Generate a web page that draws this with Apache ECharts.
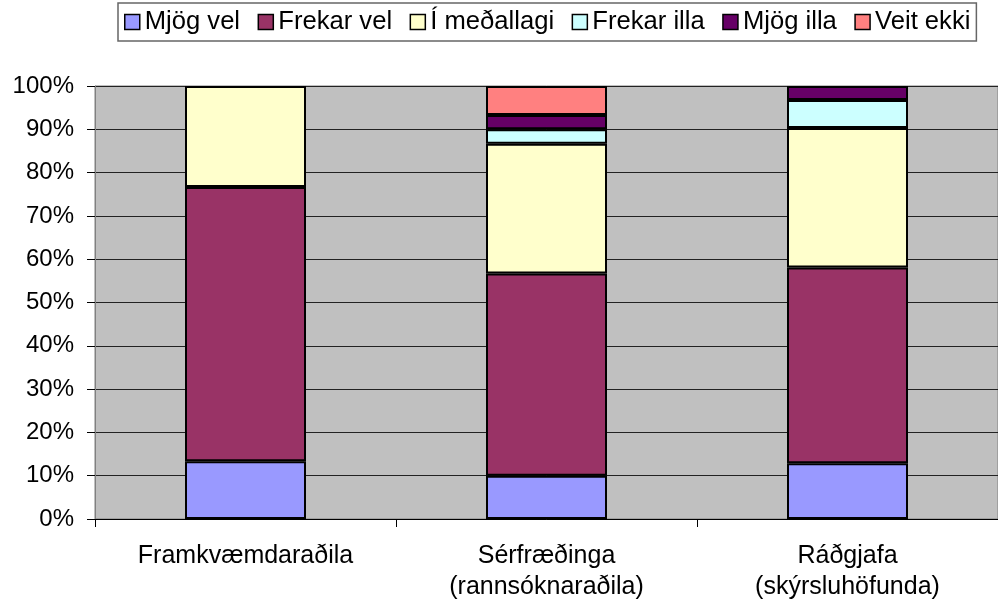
<!DOCTYPE html>
<html>
<head>
<meta charset="utf-8">
<script src="https://cdn.jsdelivr.net/npm/echarts@6/dist/echarts.min.js"></script>
<style>
html,body{margin:0;padding:0;background:#fff;}
#chart{width:998px;height:603px;}
</style>
</head>
<body>
<div id="chart"></div>
<script>
// flokkar og gildi (%)
var categories = ['Framkvæmdaraðila', 'Sérfræðinga\n(rannsóknaraðila)', 'Ráðgjafa\n(skýrsluhöfunda)'];
var mjogVel = [13.33, 10.0, 12.90];
var frekarVel = [63.33, 46.67, 45.16];
var iMedallagi = [23.33, 30.0, 32.26];
var frekarIlla = [null, 3.33, 6.45];
var mjogIlla = [null, 3.33, 3.23];
var veitEkki = [null, 6.67, null];
var seriesNames = ['Mjög vel', 'Frekar vel', 'Í meðallagi', 'Frekar illa', 'Mjög illa', 'Veit ekki'];
var colors = ['#9999FF', '#993366', '#FFFFCC', '#CCFFFF', '#660066', '#FF8080'];

var myChart = echarts.init(document.getElementById('chart'));

function makeSeries(i, data) {
    return {
        name: seriesNames[i],
        type: 'bar',
        stack: 'all',
        barWidth: 121,
        data: data,
        itemStyle: {
            color: colors[i],
            borderColor: '#000',
            borderWidth: 2
        }
    };
}

var option = {
    animation: false,
    textStyle: { fontFamily: 'Liberation Sans, Arial, sans-serif' },
    legend: {
        left: 118,
        top: 3,
        padding: [5, 6, 5, 6],
        borderColor: '#666',
        borderWidth: 1.5,
        itemWidth: 15,
        itemHeight: 15,
        itemGap: 17.5,
        icon: 'rect',
        textStyle: { fontSize: 25.6, color: '#000', lineHeight: 28 },
        itemStyle: { borderColor: '#000', borderWidth: 1.5 },
        data: seriesNames
    },
    grid: {
        left: 95,
        right: 0,
        top: 86,
        bottom: 83,
        show: true,
        backgroundColor: '#C0C0C0',
        borderColor: '#808080',
        borderWidth: 1
    },
    xAxis: {
        type: 'category',
        data: categories,
        axisLine: { lineStyle: { color: '#000', width: 1 } },
        axisTick: { show: true, length: 8, lineStyle: { color: '#000' } },
        axisLabel: { fontSize: 25, color: '#000', margin: 22, lineHeight: 31 }
    },
    yAxis: {
        type: 'value',
        min: 0,
        max: 100,
        interval: 10,
        axisLine: { show: true, lineStyle: { color: '#808080' } },
        axisTick: { show: true, length: 8, lineStyle: { color: '#000' } },
        axisLabel: { fontSize: 24, color: '#000', margin: 21, formatter: '{value}%' },
        splitLine: { show: true, lineStyle: { color: '#222', width: 1 } }
    },
    series: [
        makeSeries(0, mjogVel),
        makeSeries(1, frekarVel),
        makeSeries(2, iMedallagi),
        makeSeries(3, frekarIlla),
        makeSeries(4, mjogIlla),
        makeSeries(5, veitEkki)
    ]
};

myChart.setOption(option, true);
</script>
</body>
</html>
